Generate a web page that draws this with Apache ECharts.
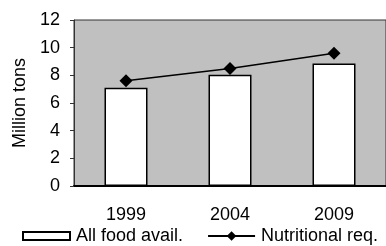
<!DOCTYPE html>
<html>
<head>
<meta charset="utf-8">
<script src="https://cdn.jsdelivr.net/npm/echarts@6/dist/echarts.min.js"></script>
<style>
  html, body { margin: 0; padding: 0; background: #fff; }
  #chart { width: 386px; height: 246px; }
</style>
</head>
<body>
<div id="chart"></div>
<script>
// Food availability vs nutritional requirement
const years = ['1999', '2004', '2009'];
const foodAvail = [7.1, 8.05, 8.85];
const nutritionalReq = [7.6, 8.5, 9.6];
const yTicks = [0, 2, 4, 6, 8, 10, 12];

const font = 'Arial, "Liberation Sans", sans-serif';

const chart = echarts.init(document.getElementById('chart'));

chart.setOption({
    animation: false,
    grid: {
        left: 74,
        top: 20,
        width: 318,
        height: 166,
        show: true,
        backgroundColor: '#c0c0c0',
        borderColor: '#333',
        borderWidth: 1
    },
    legend: {
        left: 22,
        top: 227,
        width: 380,
        padding: 0,
        itemWidth: 47,
        itemHeight: 12,
        itemGap: 24,
        textStyle: { fontFamily: font, fontSize: 18, color: '#000', padding: [0, 0, 0, 1] },
        data: [
            { name: 'All food avail.', icon: 'path://M0,0L47,0L47,8L0,8Z' },
            { name: 'Nutritional req.' }
        ]
    },
    xAxis: [{
        type: 'category',
        data: years,
        axisLine: { lineStyle: { color: '#000', width: 2 } },
        axisTick: { length: 6, lineStyle: { color: '#000' } },
        axisLabel: { fontFamily: font, fontSize: 18, color: '#000', margin: 20 }
    }, {
        type: 'category',
        data: years,
        position: 'bottom',
        axisLine: { show: false },
        axisTick: { inside: true, length: 6, lineStyle: { color: '#000' } },
        axisLabel: { show: false }
    }],
    yAxis: {
        type: 'value',
        min: yTicks[0],
        max: yTicks[yTicks.length - 1],
        interval: 2,
        name: 'Million tons',
        nameLocation: 'middle',
        nameGap: 40,
        nameTextStyle: { fontFamily: font, fontSize: 18, color: '#000' },
        axisLine: { show: true, lineStyle: { color: '#333' } },
        axisTick: { show: true, length: 4, lineStyle: { color: '#333' } },
        splitLine: { show: false },
        axisLabel: { fontFamily: font, fontSize: 18, color: '#000', margin: 14 }
    },
    series: [{
        name: 'All food avail.',
        type: 'bar',
        data: foodAvail,
        barWidth: 43,
        itemStyle: { color: '#fff', borderColor: '#000', borderWidth: 1.5 }
    }, {
        name: 'Nutritional req.',
        type: 'line',
        data: nutritionalReq,
        symbol: 'diamond',
        symbolSize: 13,
        lineStyle: { color: '#000', width: 1.5 },
        itemStyle: { color: '#000' }
    }]
});
</script>
</body>
</html>
